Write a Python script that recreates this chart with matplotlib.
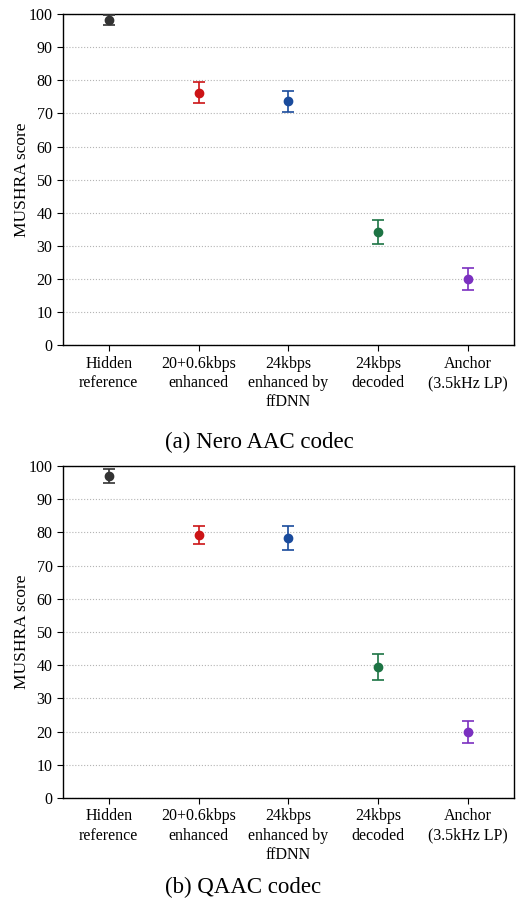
import matplotlib
matplotlib.use("Agg")
import matplotlib.pyplot as plt

plt.rcParams['font.family'] = ['Liberation Serif', 'DejaVu Serif']

categories = ["Hidden\nreference", "20+0.6kbps\nenhanced", "24kbps\nenhanced by\nffDNN",
              "24kbps\ndecoded", "Anchor\n(3.5kHz LP)"]
colors = ["#333333", "#cc1416", "#1a4b9c", "#1d7444", "#7b30c0"]

nero_mean = [98.2, 76.2, 73.6, 34.2, 20.1]
nero_err = [1.4, 3.2, 3.3, 3.6, 3.3]
qaac_mean = [97.0, 79.2, 78.2, 39.5, 19.9]
qaac_err = [2.0, 2.8, 3.6, 4.0, 3.4]

captions = ["(a) Nero AAC codec", "(b) QAAC codec"]

fig = plt.figure(figsize=(5.16, 9.06), dpi=100)
ax1 = fig.add_axes([0.122, 0.619, 0.874, 0.3655])
ax2 = fig.add_axes([0.122, 0.1192, 0.874, 0.3665])

for ax, means, errs in [(ax1, nero_mean, nero_err), (ax2, qaac_mean, qaac_err)]:
    for i, (m, e, c) in enumerate(zip(means, errs, colors)):
        ax.errorbar(i, m, yerr=e, fmt='o', color=c, markersize=6,
                    capsize=4, elinewidth=1.2, capthick=1.2, zorder=3)
    ax.set_xlim(-0.51, 4.51)
    ax.set_ylim(0, 100)
    ax.set_yticks(range(0, 101, 10))
    ax.set_xticks(range(len(categories)))
    ax.set_xticklabels(categories, fontsize=11.5, linespacing=1.28)
    ax.tick_params(axis='y', labelsize=11.5, direction='out', length=4)
    ax.tick_params(axis='x', direction='out', length=4)
    ax.yaxis.grid(True, linestyle=':', color='#b4b4b4', linewidth=0.8)
    ax.set_axisbelow(True)
    ax.set_ylabel("MUSHRA score", fontsize=12.5)
    ax.yaxis.set_label_coords(-0.072, 0.5)
    for s in ax.spines.values():
        s.set_linewidth(1.0)

fig.text(165 / 516, 1 - 442 / 906, captions[0], ha='left', va='center', fontsize=16.5)
fig.text(165 / 516, 1 - 887 / 906, captions[1], ha='left', va='center', fontsize=16.5)

fig.savefig("out.png", dpi=100)
